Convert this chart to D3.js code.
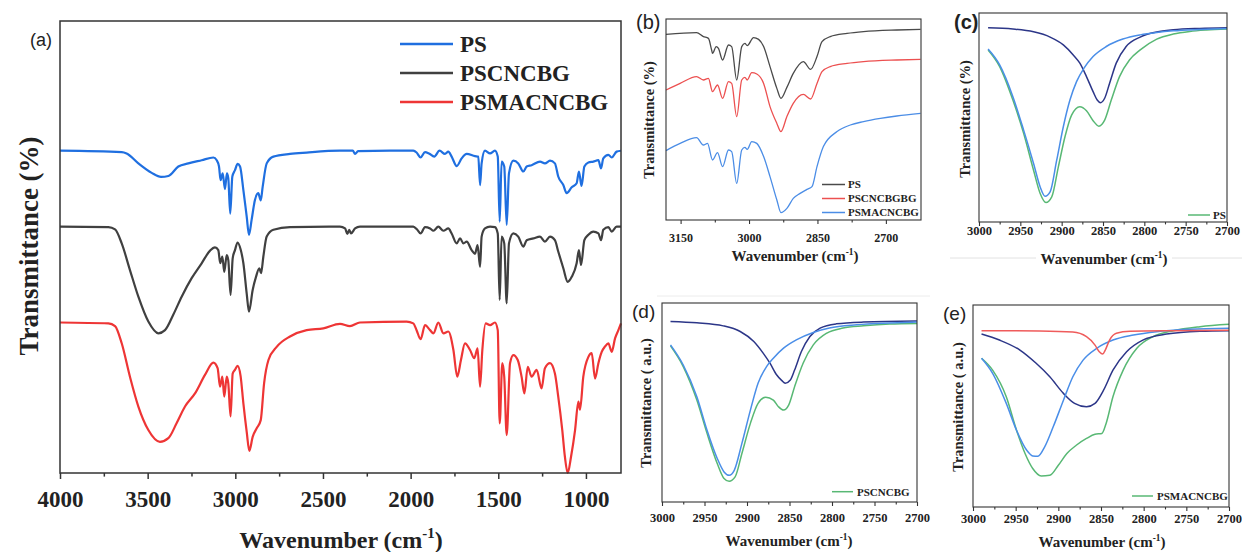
<!DOCTYPE html>
<html>
<head>
<meta charset="utf-8">
<script src="https://cdn.jsdelivr.net/npm/d3@7"></script>
<style>
body { margin: 0; background: #fff; }
svg text { font-family: "Liberation Serif", "Times New Roman", serif; font-weight: bold; fill: #222; }
svg text.plab { font-family: "Liberation Sans", Arial, sans-serif; font-weight: normal; }
</style>
</head>
<body>
<svg id="fig" width="1242" height="552"></svg>
<script>
// ---- panel (a): full FTIR spectra, [wavenumber, transmittance a.u.]
var psA = [[4000,71.3],[3648,71.0],[3620,70.7],[3553,68.5],[3477,66.4],[3424,65.5],[3382,65.7],[3325,67.8],[3268,68.5],[3192,69.2],[3125,69.8],[3106,69.2],[3093,67.8],[3084,64.8],[3072,66.3],[3059,62.8],[3048,66.3],[3040,65.2],[3029,57.4],[3017,65.6],[3002,67],[2987,68.4],[2973,67.8],[2954,62.6],[2935,56.7],[2922,52.7],[2907,56],[2888,60.4],[2869,61.9],[2855,60.3],[2844,63.3],[2821,68.5],[2783,70],[2688,70.6],[2593,70.9],[2403,71.3],[2330,71.3],[2317,70.6],[2300,71.2],[2118,71.3],[1985,71.3],[1966,70.9],[1943,69.8],[1918,71.0],[1895,70.7],[1865,70.0],[1835,71.3],[1804,70.6],[1785,71.1],[1766,70],[1737,67.9],[1709,69.6],[1680,70.6],[1633,70.1],[1614,70],[1604,63.7],[1595,68.5],[1576,71.3],[1547,70.7],[1519,71.3],[1503,70],[1492,55.6],[1481,68.9],[1466,67.8],[1452,54.9],[1439,66.3],[1414,69.1],[1386,68.5],[1357,66.7],[1338,67.8],[1310,68.1],[1262,68.9],[1234,68.5],[1205,69.1],[1177,68.5],[1158,65.6],[1129,63.7],[1110,61.9],[1081,63.2],[1053,64.1],[1040,66.7],[1025,63.5],[1009,67.8],[986,68.7],[958,68.9],[929,69.2],[914,67.4],[901,69.6],[872,70.4],[853,69.8],[825,71.1],[800,71.3]];
var pscA = [[4000,54.5],[3724,54.4],[3686,53.9],[3648,50.8],[3601,44.9],[3553,39],[3496,33.5],[3439,30.9],[3401,31.6],[3354,35],[3306,39],[3249,43.1],[3192,46.4],[3144,49.2],[3116,49.9],[3097,49.3],[3086,46.4],[3074,47.9],[3063,44.5],[3049,48.2],[3040,47.1],[3027,39.4],[3015,47.5],[3002,49.3],[2987,51],[2970,49.5],[2954,46.4],[2935,39.7],[2922,35.7],[2901,40.5],[2882,43.4],[2863,45.3],[2853,44.2],[2840,47.9],[2821,52.3],[2783,53.8],[2688,54.4],[2403,54.5],[2374,54.1],[2361,52.9],[2350,53.8],[2340,53],[2317,54.1],[2289,54.5],[1985,54.5],[1962,53.8],[1943,53],[1918,54.4],[1889,54.1],[1870,53.6],[1842,54.5],[1813,53.6],[1785,54.1],[1766,53],[1737,50.8],[1718,51.9],[1699,50.8],[1680,51.2],[1652,49.3],[1633,48.5],[1618,50.4],[1604,45.6],[1595,52.3],[1576,54.1],[1547,54.5],[1519,54.4],[1503,53],[1492,38.3],[1481,52.3],[1466,50.8],[1452,37.5],[1439,50.8],[1414,53],[1386,52.3],[1357,50.1],[1338,51.5],[1300,51.9],[1262,52.3],[1234,51.2],[1205,52.3],[1177,51.5],[1158,49],[1129,45.3],[1104,42.3],[1081,43.4],[1053,46.4],[1040,49.3],[1028,46],[1009,51.5],[986,52.7],[958,53.4],[929,53],[914,51.5],[901,53.8],[872,54.4],[853,53.4],[825,54.5],[800,54.5]];
var psmA = [[4000,33.3],[3724,33.1],[3686,32.5],[3648,28.7],[3601,21.3],[3553,14.7],[3496,9.5],[3430,6.9],[3382,7.7],[3335,11],[3287,14.7],[3230,17.6],[3173,21.7],[3125,24.4],[3101,23.2],[3087,19.1],[3074,21.3],[3063,16.9],[3049,21.3],[3040,19.8],[3027,12.5],[3015,22],[3002,22.8],[2987,23.7],[2970,21.5],[2954,15.4],[2935,9.1],[2920,4.9],[2901,8],[2878,9.9],[2855,11.7],[2836,19.8],[2811,25],[2764,27.9],[2688,30.2],[2593,31.6],[2498,32],[2403,33],[2346,32.5],[2289,33.3],[2023,33.5],[1985,33.1],[1966,31.6],[1943,29.6],[1918,32.7],[1889,31.6],[1870,30.9],[1842,33.3],[1813,30.9],[1785,31.3],[1756,27.2],[1734,21.3],[1713,25],[1690,28.7],[1661,27.2],[1637,25.4],[1618,27.6],[1604,19.1],[1591,27.2],[1572,33.1],[1547,32.7],[1519,33.3],[1503,31.6],[1492,11],[1477,24.3],[1466,21.3],[1452,8.4],[1433,24.3],[1414,26.1],[1389,25],[1367,21.3],[1351,17.6],[1332,23.5],[1310,21.3],[1281,22.8],[1253,18.7],[1234,23.2],[1205,24.3],[1177,22],[1158,16.9],[1135,9.5],[1120,3.6],[1104,0],[1085,3.6],[1062,9.5],[1043,15.8],[1034,14],[1015,21.3],[986,25.7],[967,26.5],[948,20.9],[929,24.3],[910,26.8],[891,28],[872,28.7],[853,26.8],[834,29.8],[815,31.6],[800,33.1]];

// ---- panel (b): C-H stretching region
var psB = [[3182,92.8],[3115,93.7],[3100,91.7],[3089,90.8],[3082,85],[3080,83.3],[3072,86.7],[3067,85.8],[3058,80],[3045,87.5],[3038,86.7],[3027,70],[3016,86.7],[3009,88.3],[3004,87.2],[2990,91.2],[2979,90.3],[2968,86.7],[2954,76.7],[2939,65.8],[2930,60.8],[2917,66.3],[2903,73.3],[2881,79.2],[2865,75.3],[2851,81.7],[2840,89.2],[2822,91.7],[2785,93.3],[2749,94.2],[2676,95],[2624,95.3]];
var pscB = [[3182,65],[3151,68.3],[3115,71.7],[3100,70],[3089,70.8],[3080,64.2],[3069,67.5],[3058,60.8],[3045,69.2],[3038,68.3],[3027,51.7],[3016,70],[3009,71.3],[3004,70],[2994,73.7],[2983,73],[2968,68.3],[2954,56.7],[2939,48.3],[2930,44.2],[2917,51.7],[2903,58.3],[2881,62.8],[2865,60.5],[2851,68.3],[2840,74.2],[2822,76.7],[2785,78.3],[2749,79.2],[2676,80],[2624,80.3]];
var psmB = [[3182,34.7],[3151,38.3],[3115,41.2],[3100,37.5],[3091,38.3],[3080,30],[3069,33.7],[3058,26.7],[3045,35],[3038,34.2],[3027,18.3],[3016,35],[3009,36.3],[3004,35.3],[2994,39.2],[2983,38.3],[2968,31.7],[2954,21.7],[2939,10],[2930,3.7],[2917,5.8],[2903,10.8],[2888,13.3],[2873,15.3],[2862,16.7],[2851,26.7],[2837,36.7],[2807,44.2],[2778,47.5],[2749,49.2],[2712,50.8],[2676,52],[2624,53.3]];

// ---- panel (c): PS peak fit
var sumC = [[2989,85.8],[2975,77.5],[2959,60.8],[2946,44.2],[2934,25.8],[2926,14.2],[2919,9.7],[2912,12.5],[2904,27.5],[2896,42.5],[2888,53.3],[2878,57.5],[2870,55.5],[2862,50.5],[2855,47.8],[2848,50.8],[2840,60.8],[2830,72.5],[2818,80.8],[2805,85.8],[2785,91.2],[2765,93.7],[2745,95],[2725,95.7],[2700,96.2]];
var pk1C = [[2989,86.2],[2975,78.3],[2959,62.5],[2946,45.8],[2934,29.2],[2926,17.5],[2920,12.8],[2914,15],[2906,30.8],[2898,47.5],[2890,60.8],[2882,70],[2873,76.7],[2862,82.5],[2846,87.5],[2826,91.2],[2805,93.3],[2785,94.5],[2765,95.3],[2733,96],[2700,96.5]];
var pk2C = [[2989,96.8],[2959,96.2],[2934,94.8],[2914,92.2],[2898,88.3],[2886,83.3],[2878,79.2],[2870,72.5],[2862,65],[2857,60.8],[2853,59.5],[2848,61.7],[2842,69.2],[2834,79.2],[2822,87.5],[2805,92.2],[2785,94.7],[2765,95.8],[2733,96.5],[2700,96.8]];

// ---- panel (d): PSCNCBG peak fit
var sumD = [[2990,77.8],[2975,67.5],[2959,50.8],[2947,34.2],[2935,19.2],[2927,11.7],[2921,10.3],[2914,12.5],[2906,24.2],[2896,39.2],[2887,49.2],[2878,52.2],[2869,50.8],[2863,47.5],[2857,45.8],[2851,48.3],[2844,57.5],[2834,69.2],[2822,78.3],[2806,84.2],[2787,86.7],[2763,87.8],[2732,88.7],[2700,89]];
var pk1D = [[2990,78.3],[2975,68.3],[2959,52.5],[2947,35.8],[2935,21.7],[2927,15],[2921,13.3],[2915,15.8],[2906,29.2],[2896,45.8],[2887,59.2],[2877,67.5],[2869,71.7],[2857,76.7],[2842,80.8],[2822,84.5],[2803,86.7],[2771,88.3],[2732,89.2],[2700,89.7]];
var pk2D = [[2990,90],[2959,89.3],[2928,87.8],[2908,85],[2892,80],[2881,74.2],[2873,69.2],[2865,63.3],[2859,60.5],[2855,59.2],[2849,60.8],[2844,65.8],[2836,75],[2826,82.5],[2814,86.7],[2795,88.8],[2763,89.7],[2700,90.2]];

// ---- panel (e): PSMACNCBG peak fit
var sumE = [[2990,74.2],[2977,68.3],[2961,55],[2949,38.3],[2939,26.7],[2930,19.2],[2920,15.5],[2910,15.8],[2900,20.8],[2890,26.7],[2879,30.8],[2867,34.2],[2857,36.3],[2849,36.7],[2844,41.7],[2836,55],[2824,68.3],[2808,79.2],[2789,85],[2765,88],[2734,90],[2700,91.2]];
var pk1E = [[2990,74.2],[2977,66.7],[2961,51.7],[2949,38.3],[2937,28.3],[2930,25.5],[2924,25.3],[2916,30],[2906,40],[2894,53.3],[2883,65],[2871,73.3],[2855,79.2],[2836,83.3],[2812,85.8],[2785,87.5],[2746,88.7],[2700,89.2]];
var pk2E = [[2990,86.3],[2969,83.3],[2945,78.3],[2926,71.7],[2910,65],[2894,56.7],[2881,51.7],[2867,50],[2857,51.7],[2847,58.3],[2836,68.3],[2820,77.5],[2801,83.3],[2773,86.3],[2734,87.7],[2700,88]];
var pk3E = [[2990,88],[2922,87.8],[2883,87.3],[2867,85],[2857,80.8],[2852,77.5],[2848,76.3],[2845,78.3],[2840,83.3],[2832,86.7],[2816,87.7],[2765,88],[2700,88.2]];

// ---- labels and ticks
var namesA = ["PS", "PSCNCBG", "PSMACNCBG"];
var namesB = ["PS", "PSCNCBGBG", "PSMACNCBG"];
var majorA = [4000, 3500, 3000, 2500, 2000, 1500, 1000];
var minorA = [3750, 3250, 2750, 2250, 1750, 1250];
var majorB = [3150, 3000, 2850, 2700];
var minorB = [3075, 2925, 2775];
var majorFit = [3000, 2950, 2900, 2850, 2800, 2750, 2700];
var minorFit = [2975, 2925, 2875, 2825, 2775, 2725];

var svg = d3.select("#fig");

// faint crop edges of the original figure tiles
svg.append("line").attr("x1", 950).attr("x2", 1036).attr("y1", 258).attr("y2", 258).attr("stroke", "#e2e2e2");
svg.append("line").attr("x1", 1172).attr("x2", 1242).attr("y1", 258).attr("y2", 258).attr("stroke", "#e2e2e2");
svg.append("line").attr("x1", 657).attr("x2", 930).attr("y1", 296).attr("y2", 296).attr("stroke", "#ececec");

function drawPanel(p) {
	var x = d3.scaleLinear().domain(p.xdom).range([p.left, p.right]);
	var y = d3.scaleLinear().domain([0, p.ytop]).range([p.bottom, p.top]);
	var g = svg.append("g");

	var line = d3.line()
		.x(function(d) { return x(d[0]); })
		.y(function(d) { return y(d[1]); })
		.curve(d3.curveMonotoneX);

	p.series.forEach(function(s) {
		g.append("path")
			.datum(s.data)
			.attr("d", line)
			.attr("fill", "none")
			.attr("stroke", s.color)
			.attr("stroke-width", p.lw)
			.attr("stroke-linejoin", "round");
	});

	g.append("rect")
		.attr("x", p.left).attr("y", p.top)
		.attr("width", p.right - p.left).attr("height", p.bottom - p.top)
		.attr("fill", "none").attr("stroke", "#333").attr("stroke-width", p.fw);

	var ax = g.append("g")
		.attr("transform", "translate(0," + p.bottom + ")")
		.call(d3.axisBottom(x).tickValues(p.major).tickSize(p.tick).tickSizeOuter(0).tickFormat(d3.format("d")));
	ax.select(".domain").remove();
	ax.selectAll("line").attr("stroke", "#333").attr("stroke-width", p.fw);
	ax.selectAll("text").attr("y", p.labOff).attr("dy", null).style("font-size", p.tickFont + "px");

	var mx = g.append("g")
		.attr("transform", "translate(0," + p.bottom + ")")
		.call(d3.axisBottom(x).tickValues(p.minor).tickSize(p.tick * 0.6).tickFormat(""));
	mx.select(".domain").remove();
	mx.selectAll("line").attr("stroke", "#333").attr("stroke-width", p.fw);

	// x title with superscript
	var t = g.append("text")
		.attr("x", p.xt[0]).attr("y", p.xt[1])
		.attr("text-anchor", "middle")
		.style("font-size", p.xtFont + "px")
		.text("Wavenumber (cm");
	t.append("tspan").attr("dy", -p.xtFont * 0.4).style("font-size", (p.xtFont * 0.62) + "px").text("-1");
	t.append("tspan").attr("dy", p.xtFont * 0.4).text(")");

	// y title
	g.append("text")
		.attr("transform", "translate(" + p.yt[0] + "," + p.yt[1] + ") rotate(-90)")
		.attr("text-anchor", "middle")
		.style("font-size", p.ytFont + "px")
		.text(p.ytitle);

	// panel letter
	g.append("text")
		.attr("class", "plab")
		.attr("x", p.pl[0]).attr("y", p.pl[1])
		.style("font-size", p.plFont + "px")
		.style("font-weight", p.plBold ? "bold" : "normal")
		.text(p.letter);

	// legend
	p.legend.forEach(function(l, i) {
		var ly = p.lg.y + i * p.lg.dy;
		g.append("line")
			.attr("x1", p.lg.x0).attr("x2", p.lg.x1)
			.attr("y1", ly).attr("y2", ly)
			.attr("stroke", l.color).attr("stroke-width", p.lg.w);
		g.append("text")
			.attr("x", p.lg.tx).attr("y", ly + p.lg.font * 0.35)
			.style("font-size", p.lg.font + "px")
			.text(l.name);
	});
}

var cBlue = "#1f6fe0", cGray = "#404040", cRed = "#ee3535";
var fGreen = "#58b874", fBlue = "#4a8ee8", fNavy = "#2c3688", fRed = "#ef5b5b";

drawPanel({
	letter: "(a)", pl: [30, 46], plFont: 18,
	left: 60, right: 621, top: 21, bottom: 473, xdom: [4000, 800], ytop: 100,
	lw: 2.2, fw: 1.5, tick: 6, labOff: 34, tickFont: 23,
	major: majorA, minor: minorA,
	xt: [341, 548], xtFont: 24,
	yt: [38, 246], ytFont: 27, ytitle: "Transmittance (%)",
	series: [{data: psA, color: cBlue}, {data: pscA, color: cGray}, {data: psmA, color: cRed}],
	legend: [{name: namesA[0], color: cBlue}, {name: namesA[1], color: cGray}, {name: namesA[2], color: cRed}],
	lg: {x0: 400, x1: 453, tx: 460, y: 44, dy: 29, font: 23, w: 2.5}
});

drawPanel({
	letter: "(b)", pl: [636, 29], plFont: 20,
	left: 666, right: 921, top: 19, bottom: 220, xdom: [3182, 2623], ytop: 100.5,
	lw: 1.3, fw: 1.1, tick: 4, labOff: 22, tickFont: 12,
	major: majorB, minor: minorB,
	xt: [795, 261], xtFont: 15,
	yt: [654, 120], ytFont: 14.5, ytitle: "Transmittance (%)",
	series: [{data: psB, color: "#4a4a4a"}, {data: pscB, color: "#ec5050"}, {data: psmB, color: "#4b8de6"}],
	legend: [{name: namesB[0], color: "#4a4a4a"}, {name: namesB[1], color: "#ec5050"}, {name: namesB[2], color: "#4b8de6"}],
	lg: {x0: 822, x1: 845, tx: 848, y: 184.5, dy: 14, font: 11, w: 1.5}
});

drawPanel({
	letter: "(c)", pl: [954, 29], plFont: 20, plBold: true,
	left: 979, right: 1227, top: 13, bottom: 222, xdom: [3000, 2700], ytop: 104.2,
	lw: 1.5, fw: 1.1, tick: 4, labOff: 13, tickFont: 12.5,
	major: majorFit, minor: minorFit,
	xt: [1104, 264], xtFont: 15,
	yt: [970, 119], ytFont: 14.5, ytitle: "Transmittance (%)",
	series: [{data: sumC, color: fGreen}, {data: pk2C, color: fNavy}, {data: pk1C, color: fBlue}],
	legend: [{name: "PS", color: fGreen}],
	lg: {x0: 1188, x1: 1210, tx: 1213, y: 215, dy: 14, font: 11, w: 1.5}
});

drawPanel({
	letter: "(d)", pl: [632, 318], plFont: 19,
	left: 662, right: 917, top: 303, bottom: 502, xdom: [3000, 2700], ytop: 99.2,
	lw: 1.5, fw: 1.1, tick: 4, labOff: 20, tickFont: 12.5,
	major: majorFit, minor: minorFit,
	xt: [789, 546], xtFont: 15,
	yt: [651, 403], ytFont: 14.5, ytitle: "Transmittance ( a.u.)",
	series: [{data: sumD, color: fGreen}, {data: pk2D, color: fNavy}, {data: pk1D, color: fBlue}],
	legend: [{name: "PSCNCBG", color: fGreen}],
	lg: {x0: 832, x1: 853, tx: 857, y: 491.7, dy: 14, font: 11, w: 1.5}
});

drawPanel({
	letter: "(e)", pl: [943, 320], plFont: 19,
	left: 973, right: 1229, top: 305, bottom: 507, xdom: [3000, 2700], ytop: 100.8,
	lw: 1.5, fw: 1.1, tick: 4, labOff: 16, tickFont: 12.5,
	major: majorFit, minor: minorFit,
	xt: [1102, 547], xtFont: 15,
	yt: [963, 407], ytFont: 14.5, ytitle: "Transmittance ( a.u.)",
	series: [{data: sumE, color: fGreen}, {data: pk2E, color: fNavy}, {data: pk1E, color: fBlue}, {data: pk3E, color: fRed}],
	legend: [{name: "PSMACNCBG", color: fGreen}],
	lg: {x0: 1132, x1: 1153, tx: 1157, y: 496, dy: 14, font: 11, w: 1.5}
});
</script>
</body>
</html>
